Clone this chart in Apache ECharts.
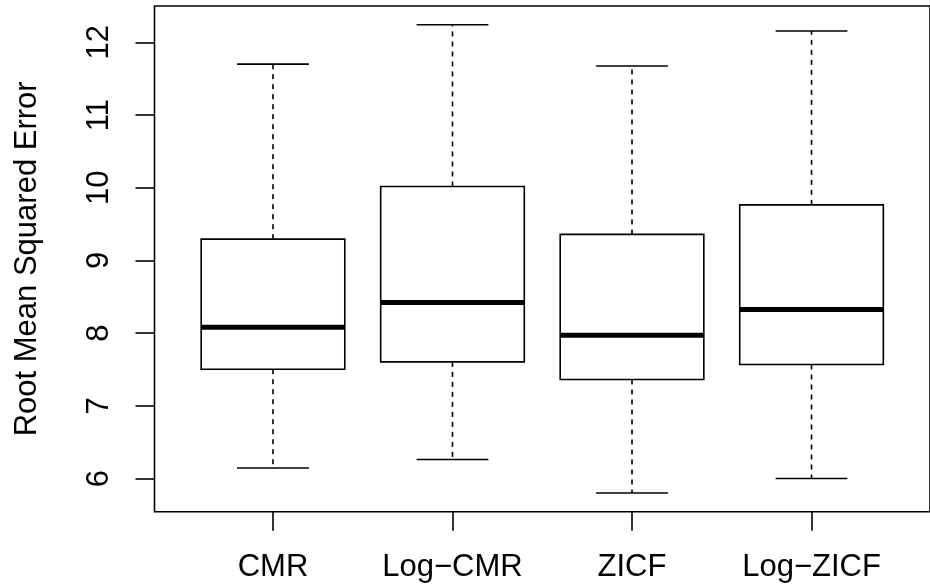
<!DOCTYPE html>
<html>
<head>
<meta charset="utf-8">
<script src="https://cdn.jsdelivr.net/npm/echarts@6/dist/echarts.min.js"></script>
<style>
  html, body { margin: 0; padding: 0; background: #fff; }
  #chart { width: 930px; height: 586px; }
</style>
</head>
<body>
<div id="chart"></div>
<script>
// Box-and-whisker summary of RMSE for the four models
const categories = ['CMR', 'Log\u2212CMR', 'ZICF', 'Log\u2212ZICF'];
const lowerWhisker = [6.146, 6.261, 5.802, 6.000];
const lowerQuartile = [7.504, 7.605, 7.363, 7.569];
const medians = [8.082, 8.422, 7.972, 8.326];
const upperQuartile = [9.293, 10.018, 9.358, 9.765];
const upperWhisker = [11.700, 12.242, 11.674, 12.156];
const yTicks = [6, 7, 8, 9, 10, 11, 12];
const xTicks = [1, 2, 3, 4];

const FONT = 'Liberation Sans, Arial, Helvetica, sans-serif';
const LW = 1.6;

const rows = categories.map((c, i) => [
  i + 1, lowerWhisker[i], lowerQuartile[i], medians[i], upperQuartile[i], upperWhisker[i]
]);

function renderBox(params, api) {
  const x = api.value(0);
  const pLo = api.coord([x, api.value(1)]);
  const pQ1 = api.coord([x, api.value(2)]);
  const pMed = api.coord([x, api.value(3)]);
  const pQ3 = api.coord([x, api.value(4)]);
  const pHi = api.coord([x, api.value(5)]);
  const halfBox = api.size([0.4, 0])[0];
  const halfCap = api.size([0.2, 0])[0];
  const cx = pMed[0];
  const solid = { stroke: '#000', lineWidth: LW, fill: null };
  const dashed = { stroke: '#000', lineWidth: LW, lineDash: [5, 5], fill: null };
  return {
    type: 'group',
    children: [
      { type: 'line', shape: { x1: cx, y1: pQ3[1], x2: cx, y2: pHi[1] }, style: dashed },
      { type: 'line', shape: { x1: cx, y1: pQ1[1], x2: cx, y2: pLo[1] }, style: dashed },
      { type: 'line', shape: { x1: cx - halfCap, y1: pHi[1], x2: cx + halfCap, y2: pHi[1] }, style: solid },
      { type: 'line', shape: { x1: cx - halfCap, y1: pLo[1], x2: cx + halfCap, y2: pLo[1] }, style: solid },
      { type: 'rect', shape: { x: cx - halfBox, y: pQ3[1], width: 2 * halfBox, height: pQ1[1] - pQ3[1] },
        style: { stroke: '#000', lineWidth: LW, fill: '#fff' } },
      { type: 'line', shape: { x1: cx - halfBox, y1: pMed[1], x2: cx + halfBox, y2: pMed[1] },
        style: { stroke: '#000', lineWidth: 5, fill: null } }
    ]
  };
}

const chart = echarts.init(document.getElementById('chart'), null, { renderer: 'canvas' });
chart.setOption({
  animation: false,
  backgroundColor: '#fff',
  grid: {
    left: 154.5, top: 6, width: 786.5, height: 505.7,
    show: true, borderColor: '#000', borderWidth: LW, backgroundColor: 'transparent'
  },
  xAxis: {
    type: 'value', min: 0.34, max: 4.66,
    axisLine: { show: false },
    splitLine: { show: false },
    axisTick: { show: true, customValues: xTicks, length: 19, lineStyle: { color: '#000', width: LW } },
    axisLabel: {
      customValues: xTicks, margin: 40, fontSize: 31, color: '#000', fontFamily: FONT,
      formatter: v => categories[Math.round(v) - 1]
    }
  },
  yAxis: {
    type: 'value', min: 5.544, max: 12.5,
    name: 'Root Mean Squared Error', nameLocation: 'middle', nameGap: 112, nameRotate: 90,
    nameTextStyle: { fontSize: 31, color: '#000', fontFamily: FONT },
    axisLine: { show: false },
    splitLine: { show: false },
    axisTick: { show: true, customValues: yTicks, length: 19, lineStyle: { color: '#000', width: LW } },
    axisLabel: {
      customValues: yTicks, rotate: 90, margin: 40, fontSize: 31, color: '#000', fontFamily: FONT
    }
  },
  series: [{
    type: 'custom',
    renderItem: renderBox,
    encode: { x: 0, y: [1, 2, 3, 4, 5] },
    data: rows
  }]
});
</script>
</body>
</html>
